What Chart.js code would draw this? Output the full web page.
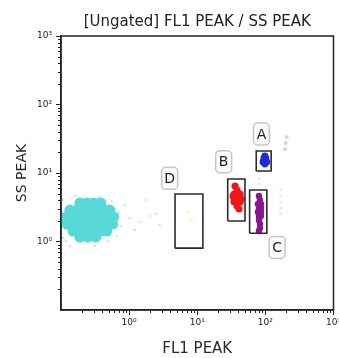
<!DOCTYPE html>
<html><head><meta charset="utf-8">
<script src="https://cdn.jsdelivr.net/npm/chart.js@4"></script>
<style>html,body{margin:0;padding:0;background:#fff}</style>
</head><body>
<canvas id="c" width="339" height="358"></canvas>
<script>
// ---- axis ticks ----
const decadeTicks = [1, 10, 100, 1000];
const tickLabels = ['10\u2070', '10\u00B9', '10\u00B2', '10\u00B3'];
const minorDecades = [0.1, 1, 10, 100];
const minorSteps = [2, 3, 4, 5, 6, 7, 8, 9];

// ---- populations (FL1 PEAK, SS PEAK) ----
const cyanX = [0.189,0.240,0.303,0.384,
  0.135,0.171,0.217,0.274,0.347,0.439,0.519,
  0.118,0.150,0.189,0.240,0.303,0.384,0.485,0.594,
  0.122,0.155,0.196,0.248,0.313,0.397,0.502,0.574,
  0.150,0.189,0.240,0.303,0.384,0.470,
  0.189,0.248,0.324];
const cyanY = [3.65,3.65,3.65,3.65,
  2.88,2.88,2.88,2.88,2.88,2.88,2.88,
  2.28,2.28,2.28,2.28,2.28,2.28,2.28,2.28,
  1.80,1.80,1.80,1.80,1.80,1.80,1.80,1.80,
  1.42,1.42,1.42,1.42,1.42,1.42,
  1.16,1.16,1.16];
const sprayX = [0.107,0.160,0.371,0.556,0.702,0.752,0.657,0.485,0.118,0.107,1.02,1.42,1.99,2.52,0.86,1.20,0.135,0.313,1.74,2.79];
const sprayY = [4.03,4.61,4.46,3.90,2.70,1.68,1.20,1.02,1.02,1.12,2.20,1.93,2.36,2.52,3.41,1.47,0.86,0.86,4.03,1.74];
const redX = [34.7,38.4,42.5,34.7,38.4,42.5,34.7,38.4,42.5,38.4,38.4,33.6,43.9,35.9,41.0];
const redY = [4.94,4.94,4.94,4.32,4.32,4.32,3.78,3.78,3.78,5.65,3.30,4.61,4.17,6.46,2.98];
const blueX = [95.1,101.7,98.3,92.1,105.1,98.3,98.3];
const blueY = [16.6,16.6,15.0,14.5,14.5,17.7,13.5];
const purpleX = [80.4,83.2,77.8,86.0,80.4,86.0,77.8,86.0,80.4,86.0,80.4,83.2,83.2,80.4];
const purpleY = [4.61,4.03,3.52,3.52,3.08,3.08,2.70,2.70,2.36,2.36,2.06,1.80,1.57,1.42];
const lavX = [199,205,195];
const lavY = [27.4,33.6,22.4];
const faintCyanX = [80.4,80.4,80.4,168,168,168,168,168];
const faintCyanY = [10.4,8.45,6.9,5.65,4.61,3.78,3.08,2.52];
const yellowX = [7.14,8.17];
const yellowY = [2.70,2.06];

// ---- gates ----
const gateNames = ['A','B','C','D'];
const gateX0 = [73.4, 28.0, 58.7, 4.72];
const gateX1 = [121.6, 50.2, 105.1, 12.1];
const gateY0 = [10.7, 1.99, 1.32, 0.80];
const gateY1 = [20.9, 8.17, 5.65, 4.93];
const labelX = [87.5, 24.4, 148.6, 3.94];
const labelY = [37.1, 14.6, 0.82, 8.37];

const pts = (xs, ys) => xs.map((x, i) => ({x, y: ys[i]}));
const rect = i => [
  {x: gateX0[i], y: gateY0[i]}, {x: gateX1[i], y: gateY0[i]},
  {x: gateX1[i], y: gateY1[i]}, {x: gateX0[i], y: gateY1[i]},
  {x: gateX0[i], y: gateY0[i]}];

const FONT = '"DejaVu Sans", Verdana, sans-serif';
const cloud = (data, color, r) => ({data, backgroundColor: color, borderWidth: 0, pointRadius: r, pointHoverRadius: r, showLine: false});

const datasets = [];
gateNames.forEach((n, i) => datasets.push({data: rect(i), showLine: true, borderColor: '#2b2b2b', borderWidth: 1.6, pointRadius: 0, fill: false, tension: 0}));
datasets.push(cloud(pts(blueX, blueY), 'rgb(30,45,205)', 3.4));
datasets.push(cloud(pts(purpleX, purpleY), 'rgb(135,20,145)', 3.2));
datasets.push(cloud(pts(redX, redY), 'rgb(238,22,22)', 3.6));
datasets.push(cloud(pts(lavX, lavY), 'rgba(160,150,235,0.45)', 2));
datasets.push(cloud(pts(faintCyanX, faintCyanY), 'rgba(90,215,215,0.3)', 1.5));
datasets.push(cloud(pts(yellowX, yellowY), 'rgba(245,240,150,0.5)', 2));
datasets.push(cloud(pts(cyanX, cyanY), 'rgb(88,216,216)', 5.5));
datasets.push(cloud(pts(sprayX, sprayY), 'rgba(88,216,216,0.4)', 1.3));

const framePlugin = {
  id: 'frame',
  afterDatasetsDraw(chart) {
    const {ctx, chartArea: a} = chart;
    ctx.save();
    ctx.strokeStyle = '#222'; ctx.lineWidth = 1.5;
    ctx.strokeRect(a.left, a.top, a.right - a.left, a.bottom - a.top);
    ctx.restore();
  }
};
const minorTickPlugin = {
  id: 'minorTicks',
  afterDraw(chart) {
    const {ctx, chartArea: a} = chart;
    const xs = chart.scales.x, ys = chart.scales.y;
    ctx.save(); ctx.strokeStyle = '#222'; ctx.lineWidth = 1;
    ctx.beginPath();
    for (const d of minorDecades) for (const m of minorSteps) {
      const v = d * m;
      const px = Math.round(xs.getPixelForValue(v)) + 0.5;
      if (px > a.left && px < a.right) { ctx.moveTo(px, a.bottom); ctx.lineTo(px, a.bottom + 3); }
      const py = Math.round(ys.getPixelForValue(v)) + 0.5;
      if (py > a.top && py < a.bottom) { ctx.moveTo(a.left, py); ctx.lineTo(a.left - 3, py); }
    }
    ctx.stroke(); ctx.restore();
  }
};
const gateLabelPlugin = {
  id: 'gateLabels',
  afterDatasetsDraw(chart) {
    const ctx = chart.ctx, xs = chart.scales.x, ys = chart.scales.y;
    ctx.save();
    ctx.font = '14px ' + FONT; ctx.textAlign = 'center'; ctx.textBaseline = 'middle';
    gateNames.forEach((n, i) => {
      const cx = xs.getPixelForValue(labelX[i]), cy = ys.getPixelForValue(labelY[i]);
      const w = 16, h = 22;
      ctx.beginPath(); ctx.roundRect(cx - w / 2, cy - h / 2, w, h, 4);
      ctx.fillStyle = '#fbfbfb'; ctx.fill();
      ctx.strokeStyle = '#c6c6c6'; ctx.lineWidth = 1.5; ctx.stroke();
      ctx.fillStyle = '#222'; ctx.fillText(n, cx, cy + 1);
    });
    ctx.restore();
  }
};

const axisCommon = (titleText, titleSize, titlePad) => ({
  type: 'logarithmic', min: 0.1, max: 1000,
  afterBuildTicks: s => { s.ticks = decadeTicks.map(v => ({value: v, major: true})); },
  ticks: {autoSkip: false, maxRotation: 0, color: '#222', font: {family: FONT, size: 9},
    callback: (v, i) => tickLabels[i]},
  grid: {display: true, drawOnChartArea: false, drawTicks: true, tickLength: 5, color: '#222', lineWidth: 1},
  border: {display: true, color: '#222', width: 1.5},
  title: {display: true, text: titleText, color: '#2a2a2a', font: {family: FONT, size: titleSize}, padding: titlePad}
});

const xAxis = axisCommon('FL1 PEAK', 15, {top: 0, bottom: 0});
xAxis.position = 'bottom';
xAxis.ticks.padding = 2;
xAxis.afterFit = s => { s.height = 48; s.paddingLeft = 0; s.paddingRight = 0; };
const yAxis = axisCommon('SS PEAK', 14, {top: 14, bottom: 0});
yAxis.position = 'left';
yAxis.ticks.padding = 4;
yAxis.afterFit = s => { s.width = 61; s.paddingTop = 0; s.paddingBottom = 0; };

new Chart(document.getElementById('c'), {
  type: 'scatter',
  data: {datasets},
  options: {
    responsive: false, animation: false, devicePixelRatio: 1, events: [],
    layout: {padding: {left: 0, right: 4, top: 0, bottom: 0}},
    plugins: {
      legend: {display: false}, tooltip: {enabled: false},
      title: {display: true, text: '[Ungated] FL1 PEAK / SS PEAK', fullSize: false, color: '#222',
        font: {family: FONT, size: 15, weight: 'normal'}, padding: {top: 13, bottom: 5}}
    },
    scales: {x: xAxis, y: yAxis}
  },
  plugins: [framePlugin, minorTickPlugin, gateLabelPlugin]
});
</script>
</body></html>
